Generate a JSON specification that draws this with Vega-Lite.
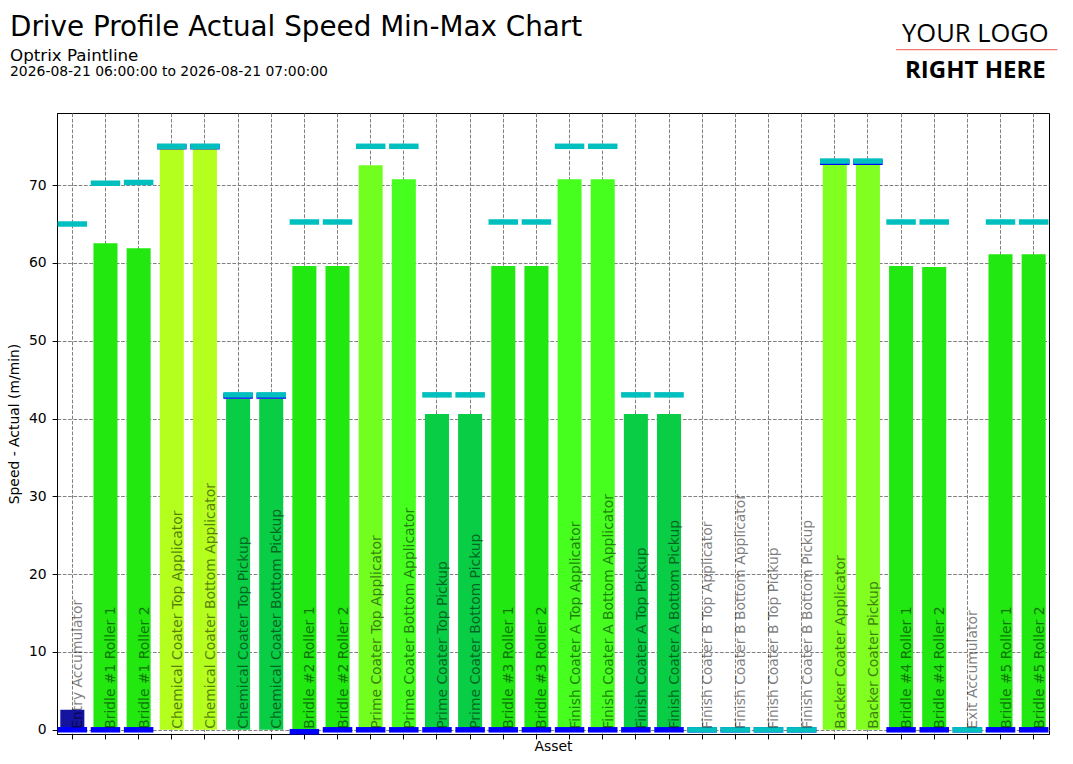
{
  "$schema": "https://vega.github.io/schema/vega-lite/v6.json",
  "autosize": {"type": "none"},
  "padding": {"left": 57, "top": 113, "right": 24, "bottom": 30},
  "width": 992,
  "height": 621,
  "background": "white",
  "config": {
    "font": "DejaVu Sans",
    "view": {"stroke": "black", "strokeWidth": 1},
    "axis": {
      "domainColor": "black",
      "tickColor": "black",
      "tickSize": 4.9,
      "labelColor": "black",
      "labelFontSize": 13.9,
      "titleFontSize": 13.9,
      "titleFontWeight": "normal",
      "titleColor": "black",
      "grid": true,
      "gridColor": "#808080",
      "gridDash": [3.7, 1.6],
      "gridWidth": 1
    }
  },
  "data": {
    "values": [
      {"asset": "Entry Accumulator", "actual": 2.57, "min": 0, "max": 65.0},
      {"asset": "Bridle #1 Roller 1", "actual": 62.55, "min": 0, "max": 70.25},
      {"asset": "Bridle #1 Roller 2", "actual": 61.9, "min": 0, "max": 70.35},
      {"asset": "Chemical Coater Top Applicator", "actual": 74.75, "min": 74.95, "max": 75.0},
      {"asset": "Chemical Coater Bottom Applicator", "actual": 74.75, "min": 74.95, "max": 75.0},
      {"asset": "Chemical Coater Top Pickup", "actual": 42.55, "min": 42.9, "max": 43.05},
      {"asset": "Chemical Coater Bottom Pickup", "actual": 42.55, "min": 42.9, "max": 43.05},
      {"asset": "Bridle #2 Roller 1", "actual": 59.6, "min": -0.25, "max": 65.27},
      {"asset": "Bridle #2 Roller 2", "actual": 59.6, "min": 0, "max": 65.27},
      {"asset": "Prime Coater Top Applicator", "actual": 72.56, "min": 0, "max": 75.0},
      {"asset": "Prime Coater Bottom Applicator", "actual": 70.77, "min": 0, "max": 75.0},
      {"asset": "Prime Coater Top Pickup", "actual": 40.59, "min": 0, "max": 43.05},
      {"asset": "Prime Coater Bottom Pickup", "actual": 40.59, "min": 0, "max": 43.05},
      {"asset": "Bridle #3 Roller 1", "actual": 59.6, "min": 0, "max": 65.27},
      {"asset": "Bridle #3 Roller 2", "actual": 59.6, "min": 0, "max": 65.27},
      {"asset": "Finish Coater A Top Applicator", "actual": 70.77, "min": 0, "max": 75.0},
      {"asset": "Finish Coater A Bottom Applicator", "actual": 70.77, "min": 0, "max": 75.0},
      {"asset": "Finish Coater A Top Pickup", "actual": 40.59, "min": 0, "max": 43.05},
      {"asset": "Finish Coater A Bottom Pickup", "actual": 40.59, "min": 0, "max": 43.05},
      {"asset": "Finish Coater B Top Applicator", "actual": 0, "min": 0, "max": 0},
      {"asset": "Finish Coater B Bottom Applicator", "actual": 0, "min": 0, "max": 0},
      {"asset": "Finish Coater B Top Pickup", "actual": 0, "min": 0, "max": 0},
      {"asset": "Finish Coater B Bottom Pickup", "actual": 0, "min": 0, "max": 0},
      {"asset": "Backer Coater Applicator", "actual": 72.66, "min": 72.95, "max": 73.1},
      {"asset": "Backer Coater Pickup", "actual": 72.66, "min": 72.95, "max": 73.1},
      {"asset": "Bridle #4 Roller 1", "actual": 59.6, "min": 0, "max": 65.27},
      {"asset": "Bridle #4 Roller 2", "actual": 59.47, "min": 0, "max": 65.27},
      {"asset": "Exit Accumulator", "actual": 0, "min": 0, "max": 0},
      {"asset": "Bridle #5 Roller 1", "actual": 61.14, "min": 0, "max": 65.27},
      {"asset": "Bridle #5 Roller 2", "actual": 61.14, "min": 0, "max": 65.27}
    ]
  },
  "encoding": {
    "x": {
      "field": "asset",
      "type": "nominal",
      "sort": null,
      "scale": {
        "domain": ["Entry Accumulator", "Bridle #1 Roller 1", "Bridle #1 Roller 2", "Chemical Coater Top Applicator", "Chemical Coater Bottom Applicator", "Chemical Coater Top Pickup", "Chemical Coater Bottom Pickup", "Bridle #2 Roller 1", "Bridle #2 Roller 2", "Prime Coater Top Applicator", "Prime Coater Bottom Applicator", "Prime Coater Top Pickup", "Prime Coater Bottom Pickup", "Bridle #3 Roller 1", "Bridle #3 Roller 2", "Finish Coater A Top Applicator", "Finish Coater A Bottom Applicator", "Finish Coater A Top Pickup", "Finish Coater A Bottom Pickup", "Finish Coater B Top Applicator", "Finish Coater B Bottom Applicator", "Finish Coater B Top Pickup", "Finish Coater B Bottom Pickup", "Backer Coater Applicator", "Backer Coater Pickup", "Bridle #4 Roller 1", "Bridle #4 Roller 2", "Exit Accumulator", "Bridle #5 Roller 1", "Bridle #5 Roller 2"],
        "paddingInner": 0.275,
        "paddingOuter": 0.1
      },
      "axis": {"title": "Asset", "labels": false, "bandPosition": 0.5, "tickBand": "center", "titlePadding": 0, "titleFontSize": 13.9}
    }
  },
  "layer": [
    {
      "mark": {"type": "bar"},
      "encoding": {
        "y": {
          "field": "actual",
          "type": "quantitative",
          "scale": {"domain": [-0.54, 79.28], "nice": false, "zero": false},
          "axis": {"title": "Speed - Actual (m/min)", "values": [0, 10, 20, 30, 40, 50, 60, 70], "labelFontSize": 13.9, "labelFont": "DejaVu Sans", "labelPadding": 6, "titlePadding": 7, "titleFontSize": 13.9}
        },
        "color": {
          "field": "actual",
          "type": "quantitative",
          "scale": {
            "domain": [2.57, 40.59, 42.55, 59.47, 62.55, 70.77, 72.56, 72.66, 74.75],
            "range": ["#1414a0", "#0acd46", "#0acd46", "#20e810", "#22e810", "#46ff1e", "#72ff20", "#80ff20", "#b4ff1e"],
            "interpolate": "rgb"
          },
          "legend": null
        }
      }
    },
    {
      "mark": {"type": "tick", "color": "#0000ff", "size": 29.5, "thickness": 5.5, "opacity": 1},
      "encoding": {"y": {"field": "min", "type": "quantitative"}}
    },
    {
      "mark": {"type": "tick", "color": "#00bfbf", "size": 29.5, "thickness": 5.5, "opacity": 1},
      "encoding": {"y": {"field": "max", "type": "quantitative"}}
    },
    {
      "mark": {"type": "text", "angle": 270, "align": "left", "baseline": "top", "fontSize": 13.9, "color": "black", "opacity": 0.5, "dx": 1, "dy": -1},
      "encoding": {
        "y": {"datum": 0, "type": "quantitative"},
        "text": {"field": "asset"}
      }
    },
    {
      "data": {"values": [{"line": "Drive Profile Actual Speed Min-Max Chart"}]},
      "mark": {"type": "text", "align": "left", "baseline": "alphabetic", "fontSize": 27.8, "color": "black", "dx": -62.3},
      "encoding": {
        "x": {"datum": "Entry Accumulator", "type": "nominal"},
        "y": {"datum": 89.2, "type": "quantitative"},
        "text": {"field": "line"}
      }
    },
    {
      "data": {"values": [{"line": "Optrix Paintline"}]},
      "mark": {"type": "text", "align": "left", "baseline": "alphabetic", "fontSize": 16.7, "color": "black", "dx": -62.3},
      "encoding": {
        "x": {"datum": "Entry Accumulator", "type": "nominal"},
        "y": {"datum": 86.0, "type": "quantitative"},
        "text": {"field": "line"}
      }
    },
    {
      "data": {"values": [{"line": "2026-08-21 06:00:00 to 2026-08-21 07:00:00"}]},
      "mark": {"type": "text", "align": "left", "baseline": "alphabetic", "fontSize": 13.9, "color": "black", "dx": -62.3},
      "encoding": {
        "x": {"datum": "Entry Accumulator", "type": "nominal"},
        "y": {"datum": 84.0, "type": "quantitative"},
        "text": {"field": "line"}
      }
    },
    {
      "data": {"values": [{"line": "YOUR LOGO"}]},
      "mark": {"type": "text", "align": "center", "baseline": "alphabetic", "font": "Open Sans", "fontSize": 25.5, "color": "black", "dx": 8},
      "encoding": {
        "x": {"datum": "Exit Accumulator", "type": "nominal"},
        "y": {"datum": 88.35, "type": "quantitative"},
        "text": {"field": "line"}
      }
    },
    {
      "data": {"values": [{"line": "RIGHT HERE"}]},
      "mark": {"type": "text", "align": "center", "baseline": "alphabetic", "font": "Open Sans", "fontWeight": "bold", "fontSize": 24, "color": "black", "dx": 8},
      "encoding": {
        "x": {"datum": "Exit Accumulator", "type": "nominal"},
        "y": {"datum": 83.78, "type": "quantitative"},
        "text": {"field": "line"}
      }
    },
    {
      "data": {"values": [{"line": "logo rule"}]},
      "mark": {"type": "rule", "stroke": "#f07878", "color": "#f07878", "strokeWidth": 1.2, "xOffset": -5, "x2Offset": 23.7},
      "encoding": {
        "x": {"datum": "Bridle #4 Roller 1", "type": "nominal"},
        "x2": {"datum": "Bridle #5 Roller 2"},
        "y": {"datum": 87.42, "type": "quantitative"}
      }
    }
  ]
}
